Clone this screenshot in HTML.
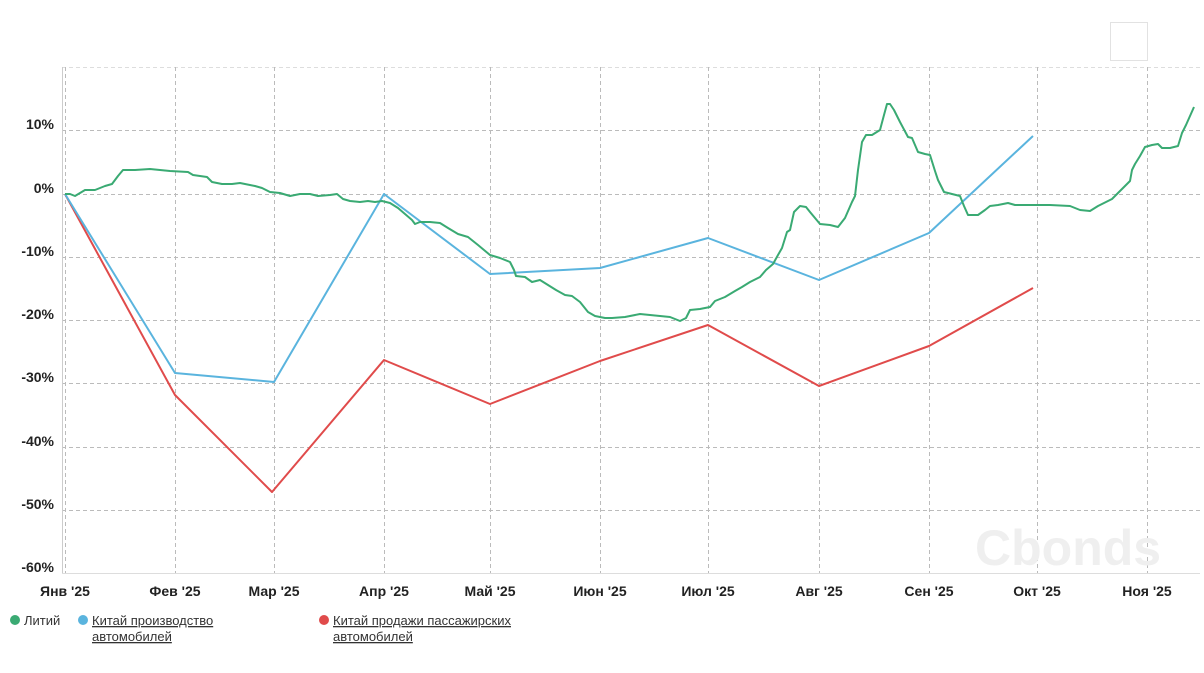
<!DOCTYPE html>
<html><head><meta charset="utf-8"><style>
body{margin:0;background:#fff;width:1204px;height:673px;overflow:hidden;font-family:"Liberation Sans",sans-serif}
</style></head><body>
<svg width="1204" height="673" xmlns="http://www.w3.org/2000/svg" style="position:absolute;left:0;top:0">
<rect x="1110.5" y="22.5" width="37" height="38" fill="#fff" stroke="#e2e2e2"/>
<g stroke="#bbb" stroke-dasharray="4,3" stroke-width="1">
<line x1="62" y1="67.5" x2="1200" y2="67.5" stroke="#ddd"/>
<line x1="62" y1="130.5" x2="1200" y2="130.5"/>
<line x1="62" y1="194.5" x2="1200" y2="194.5"/>
<line x1="62" y1="257.5" x2="1200" y2="257.5"/>
<line x1="62" y1="320.5" x2="1200" y2="320.5"/>
<line x1="62" y1="383.5" x2="1200" y2="383.5"/>
<line x1="62" y1="447.5" x2="1200" y2="447.5"/>
<line x1="62" y1="510.5" x2="1200" y2="510.5"/>
<line x1="65.5" y1="67" x2="65.5" y2="573"/>
<line x1="175.5" y1="67" x2="175.5" y2="573"/>
<line x1="274.5" y1="67" x2="274.5" y2="573"/>
<line x1="384.5" y1="67" x2="384.5" y2="573"/>
<line x1="490.5" y1="67" x2="490.5" y2="573"/>
<line x1="600.5" y1="67" x2="600.5" y2="573"/>
<line x1="708.5" y1="67" x2="708.5" y2="573"/>
<line x1="819.5" y1="67" x2="819.5" y2="573"/>
<line x1="929.5" y1="67" x2="929.5" y2="573"/>
<line x1="1037.5" y1="67" x2="1037.5" y2="573"/>
<line x1="1147.5" y1="67" x2="1147.5" y2="573"/>
</g>
<line x1="62.5" y1="67" x2="62.5" y2="574" stroke="#ccc"/>
<line x1="62" y1="573.5" x2="1200" y2="573.5" stroke="#ddd"/>
<text x="975" y="565" font-size="50" font-weight="bold" fill="#efefef">Cbonds</text>
<g font-size="14" font-weight="bold" fill="#222" text-anchor="end">
<text x="54" y="129">10%</text><text x="54" y="193">0%</text><text x="54" y="256">-10%</text>
<text x="54" y="319">-20%</text><text x="54" y="382">-30%</text><text x="54" y="446">-40%</text>
<text x="54" y="509">-50%</text><text x="54" y="572">-60%</text>
</g>
<g font-size="14" font-weight="bold" fill="#222" text-anchor="middle">
<text x="65" y="596">Янв '25</text><text x="175" y="596">Фев '25</text><text x="274" y="596">Мар '25</text>
<text x="384" y="596">Апр '25</text><text x="490" y="596">Май '25</text><text x="600" y="596">Июн '25</text>
<text x="708" y="596">Июл '25</text><text x="819" y="596">Авг '25</text><text x="929" y="596">Сен '25</text>
<text x="1037" y="596">Окт '25</text><text x="1147" y="596">Ноя '25</text>
</g>
<g fill="none" stroke-width="2" stroke-linejoin="round">
<polyline stroke="#e04b4b" points="65,194 175,395 272,492 384,360 490,404 600,361 708,325 819,386 929,346 1033,288"/>
<polyline stroke="#5ab4de" points="65,194 175,373 274,382 384,194 490,274 600,268 708,238 819,280 929,233 1033,136"/>
<polyline stroke="#3aaa73" points="65,194 70,194 75,196 85,190 95,190 105,186 112,184 118,176 123,170 135,170 150,169 170,171 188,172 193,175 207,177 212,182 222,184 232,184 240,183 255,186 262,188 270,192 280,193 290,196 300,194 310,194 318,196 330,195 337,194 343,199 350,201 360,202 368,201 375,202 382,201 390,203 398,208 405,214 412,220 415,224 420,222 430,222 440,223 448,228 458,234 468,237 478,245 490,255 500,258 510,262 514,270 516,276 525,277 532,282 540,280 548,285 556,290 565,295 572,296 580,302 588,312 595,316 605,318 612,318 625,317 640,314 660,316 670,317 680,321 686,318 690,310 700,309 710,307 715,301 725,297 735,291 742,287 750,282 760,277 766,270 773,264 778,255 782,248 787,232 790,230 794,212 800,206 806,207 810,212 815,218 820,224 830,225 838,227 845,218 852,202 855,196 858,170 862,142 866,135 872,135 880,130 884,115 887,104 890,104 894,110 900,122 908,137 912,138 918,152 925,154 930,155 935,171 938,180 944,192 952,194 960,196 964,206 968,215 978,215 985,210 990,206 998,205 1008,203 1015,205 1030,205 1050,205 1070,206 1080,210 1090,211 1098,206 1108,201 1112,199 1118,193 1125,186 1130,181 1132,170 1135,164 1140,156 1145,147 1152,145 1158,144 1162,148 1170,148 1178,146 1182,133 1186,125 1194,107"/>
</g>
<g font-size="13" fill="#333">
<circle cx="15" cy="620" r="5" fill="#3aaa73"/><text x="24" y="625">Литий</text>
<circle cx="83" cy="620" r="5" fill="#5ab4de"/><text x="92" y="625" text-decoration="underline">Китай производство</text><text x="92" y="641" text-decoration="underline">автомобилей</text>
<circle cx="324" cy="620" r="5" fill="#e04b4b"/><text x="333" y="625" text-decoration="underline">Китай продажи пассажирских</text><text x="333" y="641" text-decoration="underline">автомобилей</text>
</g>
</svg>
</body></html>
